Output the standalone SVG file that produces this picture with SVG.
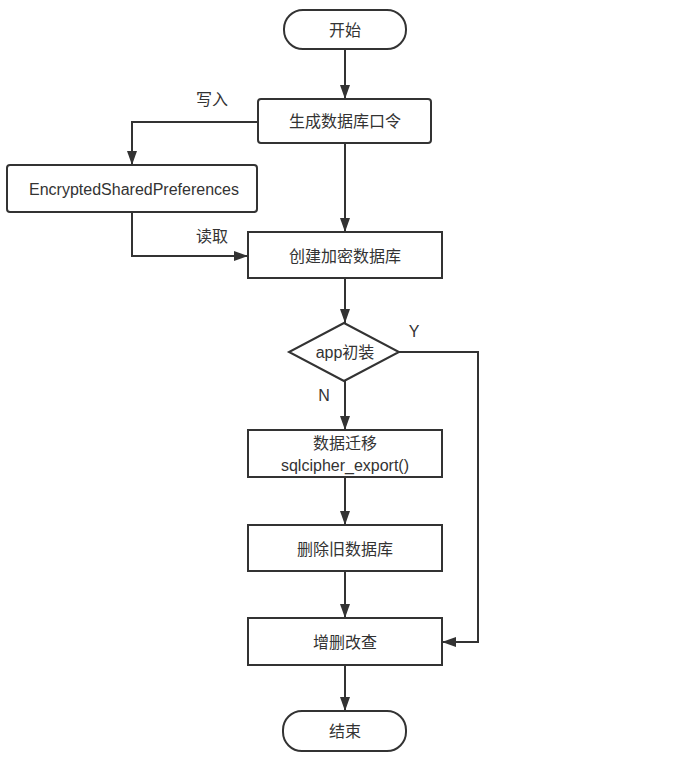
<svg xmlns="http://www.w3.org/2000/svg" width="680" height="771" viewBox="0 0 680 771">
<style>
.n{fill:#fff;stroke:#333;stroke-width:2}
.t{font-family:"Liberation Sans","Noto Sans CJK SC",sans-serif;font-size:16px;fill:#333;text-anchor:middle;dominant-baseline:central}
.c{fill:none;stroke:#333;stroke-width:2}
</style>
<defs>
<marker id="a" markerUnits="userSpaceOnUse" markerWidth="14" markerHeight="10" refX="14" refY="5" orient="auto">
<path d="M0,0 L14,5 L0,10 z" fill="#333"/>
</marker>
</defs>
<rect width="680" height="771" fill="#fff"/>
<g id="connectors">
<path class="c" d="M345,49 V99" marker-end="url(#a)"/>
<path class="c" d="M258,122 H132 V165" marker-end="url(#a)"/>
<path class="c" d="M345,143 V232" marker-end="url(#a)"/>
<path class="c" d="M132,212 V256 H248" marker-end="url(#a)"/>
<path class="c" d="M345,278 V323" marker-end="url(#a)"/>
<path class="c" d="M345,381 V430" marker-end="url(#a)"/>
<path class="c" d="M399,352 H478 V642 H442" marker-end="url(#a)"/>
<path class="c" d="M345,477 V525" marker-end="url(#a)"/>
<path class="c" d="M345,571 V618" marker-end="url(#a)"/>
<path class="c" d="M345,665 V711" marker-end="url(#a)"/>
<text class="t" x="212" y="99">写入</text>
<text class="t" x="212" y="236">读取</text>
<text class="t" x="414" y="331">Y</text>
<text class="t" x="324" y="395">N</text>
</g>
<g id="start"><rect class="n" x="284" y="10" width="122" height="39" rx="19"/><text class="t" x="345" y="30">开始</text></g>
<g id="gen"><rect class="n" x="258" y="99" width="173" height="44" rx="3"/><text class="t" x="345" y="121">生成数据库口令</text></g>
<g id="esp"><rect class="n" x="7" y="165" width="250" height="47" rx="3"/><text class="t" x="134" y="189">EncryptedSharedPreferences</text></g>
<g id="create"><rect class="n" x="248" y="232" width="194" height="46"/><text class="t" x="345" y="256">创建加密数据库</text></g>
<g id="first"><path class="n" d="M344,323 L399,352 L344,381 L289,352 z"/><text class="t" x="345" y="352">app初装</text></g>
<g id="migrate"><rect class="n" x="248" y="430" width="194" height="47"/><text class="t" x="345" y="443">数据迁移</text><text class="t" x="345" y="465">sqlcipher_export()</text></g>
<g id="delete"><rect class="n" x="248" y="525" width="194" height="46"/><text class="t" x="345" y="549">删除旧数据库</text></g>
<g id="crud"><rect class="n" x="248" y="618" width="194" height="47"/><text class="t" x="345" y="642">增删改查</text></g>
<g id="end"><rect class="n" x="283" y="711" width="123" height="40" rx="19"/><text class="t" x="345" y="731">结束</text></g>
</svg>
